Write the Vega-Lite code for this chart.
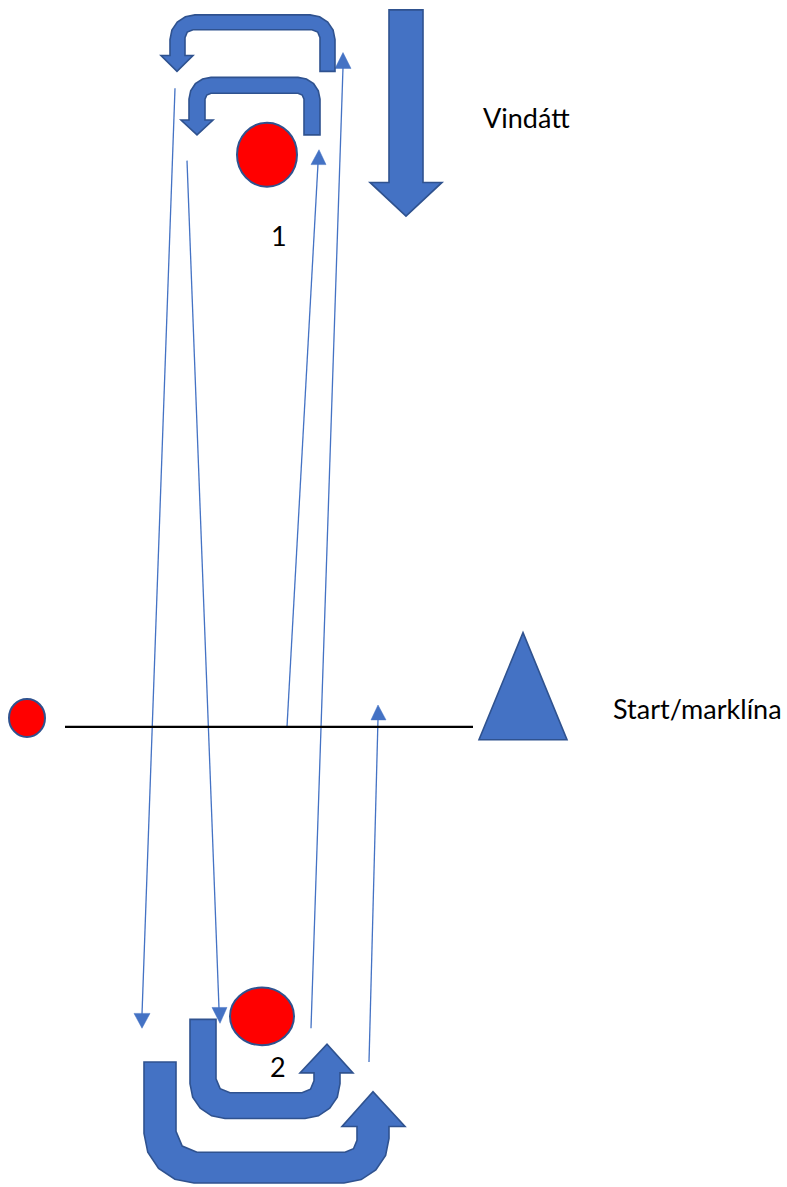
{
  "$schema": "https://vega.github.io/schema/vega-lite/v6.json",
  "width": 787,
  "height": 1187,
  "padding": 0,
  "autosize": {"type": "fit", "contains": "padding"},
  "background": "white",
  "config": {"view": {"stroke": null}},
  "datasets": {
    "polys": [
      {"id": "A", "x": 335, "y": 72}, {"id": "A", "x": 335, "y": 40}, {"id": "A", "x": 333.1, "y": 30.4}, {"id": "A", "x": 327.7, "y": 22.3}, {"id": "A", "x": 319.6, "y": 16.9}, {"id": "A", "x": 310, "y": 15},
      {"id": "A", "x": 195, "y": 15}, {"id": "A", "x": 185.4, "y": 16.9}, {"id": "A", "x": 177.3, "y": 22.3}, {"id": "A", "x": 171.9, "y": 30.4}, {"id": "A", "x": 170, "y": 40},
      {"id": "A", "x": 170, "y": 56}, {"id": "A", "x": 161, "y": 56}, {"id": "A", "x": 177, "y": 72}, {"id": "A", "x": 193, "y": 56}, {"id": "A", "x": 185, "y": 56},
      {"id": "A", "x": 185, "y": 38}, {"id": "A", "x": 187.3, "y": 32.3}, {"id": "A", "x": 193, "y": 30}, {"id": "A", "x": 312, "y": 30}, {"id": "A", "x": 317.7, "y": 32.3}, {"id": "A", "x": 320, "y": 38}, {"id": "A", "x": 320, "y": 72},

      {"id": "B", "x": 320, "y": 136}, {"id": "B", "x": 320, "y": 100}, {"id": "B", "x": 318.3, "y": 91.6}, {"id": "B", "x": 313.6, "y": 84.4}, {"id": "B", "x": 306.4, "y": 79.7}, {"id": "B", "x": 298, "y": 78},
      {"id": "B", "x": 211, "y": 78}, {"id": "B", "x": 202.6, "y": 79.7}, {"id": "B", "x": 195.4, "y": 84.4}, {"id": "B", "x": 190.7, "y": 91.6}, {"id": "B", "x": 189, "y": 100},
      {"id": "B", "x": 189, "y": 121}, {"id": "B", "x": 181, "y": 121}, {"id": "B", "x": 197, "y": 136}, {"id": "B", "x": 213, "y": 121}, {"id": "B", "x": 205, "y": 121},
      {"id": "B", "x": 205, "y": 100}, {"id": "B", "x": 206.8, "y": 95.8}, {"id": "B", "x": 211, "y": 94}, {"id": "B", "x": 298, "y": 94}, {"id": "B", "x": 302.2, "y": 95.8}, {"id": "B", "x": 304, "y": 100}, {"id": "B", "x": 304, "y": 136},

      {"id": "C", "x": 190, "y": 1028}, {"id": "C", "x": 216, "y": 1028}, {"id": "C", "x": 216, "y": 1088}, {"id": "C", "x": 220.1, "y": 1097.9}, {"id": "C", "x": 230, "y": 1102},
      {"id": "C", "x": 302, "y": 1102}, {"id": "C", "x": 310.5, "y": 1098.5}, {"id": "C", "x": 314, "y": 1090}, {"id": "C", "x": 314, "y": 1082},
      {"id": "C", "x": 300, "y": 1082}, {"id": "C", "x": 327, "y": 1053}, {"id": "C", "x": 353, "y": 1082}, {"id": "C", "x": 340, "y": 1082},
      {"id": "C", "x": 340, "y": 1093}, {"id": "C", "x": 337.3, "y": 1106.4}, {"id": "C", "x": 329.7, "y": 1117.7}, {"id": "C", "x": 318.4, "y": 1125.3}, {"id": "C", "x": 305, "y": 1128},
      {"id": "C", "x": 225, "y": 1128}, {"id": "C", "x": 211.6, "y": 1125.3}, {"id": "C", "x": 200.3, "y": 1117.7}, {"id": "C", "x": 192.7, "y": 1106.4}, {"id": "C", "x": 190, "y": 1093},

      {"id": "D", "x": 144, "y": 1071}, {"id": "D", "x": 176, "y": 1071}, {"id": "D", "x": 176, "y": 1141}, {"id": "D", "x": 182.2, "y": 1155.8}, {"id": "D", "x": 197, "y": 1162},
      {"id": "D", "x": 345, "y": 1162}, {"id": "D", "x": 353.5, "y": 1158.5}, {"id": "D", "x": 357, "y": 1150}, {"id": "D", "x": 357, "y": 1136},
      {"id": "D", "x": 342, "y": 1136}, {"id": "D", "x": 373, "y": 1101}, {"id": "D", "x": 405, "y": 1136}, {"id": "D", "x": 389, "y": 1136},
      {"id": "D", "x": 389, "y": 1148}, {"id": "D", "x": 385.6, "y": 1165.2}, {"id": "D", "x": 375.8, "y": 1179.8}, {"id": "D", "x": 361.2, "y": 1189.6}, {"id": "D", "x": 344, "y": 1193},
      {"id": "D", "x": 194, "y": 1193}, {"id": "D", "x": 174.9, "y": 1189.2}, {"id": "D", "x": 158.6, "y": 1178.4}, {"id": "D", "x": 147.8, "y": 1162.1}, {"id": "D", "x": 144, "y": 1143},

      {"id": "W", "x": 389, "y": 10}, {"id": "W", "x": 423, "y": 10}, {"id": "W", "x": 423, "y": 184}, {"id": "W", "x": 442, "y": 184}, {"id": "W", "x": 406, "y": 218}, {"id": "W", "x": 370, "y": 184}, {"id": "W", "x": 389, "y": 184},

      {"id": "T", "x": 523, "y": 638}, {"id": "T", "x": 567, "y": 746}, {"id": "T", "x": 479, "y": 746}
    ],
    "heads": [
      {"id": "h1", "x": 134, "y": 1022}, {"id": "h1", "x": 150, "y": 1022}, {"id": "h1", "x": 142, "y": 1037},
      {"id": "h2", "x": 212, "y": 1016}, {"id": "h2", "x": 227, "y": 1016}, {"id": "h2", "x": 220, "y": 1032},
      {"id": "h3", "x": 311, "y": 166}, {"id": "h3", "x": 326, "y": 166}, {"id": "h3", "x": 319, "y": 151},
      {"id": "h4", "x": 335, "y": 69}, {"id": "h4", "x": 351, "y": 69}, {"id": "h4", "x": 343, "y": 53},
      {"id": "h5", "x": 371, "y": 726}, {"id": "h5", "x": 386, "y": 726}, {"id": "h5", "x": 378, "y": 711}
    ],
    "thin": [
      {"x": 175, "y": 89, "x2": 142, "y2": 1023},
      {"x": 187, "y": 162, "x2": 219, "y2": 1017},
      {"x": 287, "y": 733, "x2": 318, "y2": 165},
      {"x": 311, "y": 1037, "x2": 343, "y2": 68},
      {"x": 369, "y": 1071, "x2": 378, "y2": 725}
    ],
    "baseline": [
      {"x": 65, "y": 733, "x2": 473, "y2": 733}
    ],
    "topcircle": [
      {"name": "1", "x": 267, "y": 156}
    ],
    "bottomcircle": [
      {"name": "2", "x": 262, "y": 1025}
    ],
    "small": [
      {"name": "left", "x": 27, "y": 724}
    ],
    "labels": [
      {"label": "Vindátt", "x": 483, "y": 129},
      {"label": "Start/marklína", "x": 613, "y": 725},
      {"label": "1", "x": 271, "y": 248},
      {"label": "2", "x": 270, "y": 1086}
    ]
  },
  "layer": [
    {
      "data": {"name": "thin"},
      "mark": {"type": "rule", "stroke": "#4472C4", "strokeWidth": 1.3},
      "encoding": {
        "x": {"field": "x", "type": "quantitative", "scale": {"domain": [0, 787], "nice": false, "zero": false}, "axis": null},
        "y": {"field": "y", "type": "quantitative", "scale": {"domain": [0, 1187], "nice": false, "zero": false, "reverse": true}, "axis": null},
        "x2": {"field": "x2"},
        "y2": {"field": "y2"}
      }
    },
    {
      "data": {"name": "heads"},
      "mark": {"type": "line", "interpolate": "linear-closed", "fill": "#4472C4", "stroke": "#4472C4", "strokeWidth": 0.5},
      "encoding": {
        "x": {"field": "x", "type": "quantitative", "scale": {"domain": [0, 787], "nice": false, "zero": false}, "axis": null},
        "y": {"field": "y", "type": "quantitative", "scale": {"domain": [0, 1187], "nice": false, "zero": false, "reverse": true}, "axis": null},
        "detail": {"field": "id", "type": "nominal"},
        "order": {"value": null}
      }
    },
    {
      "data": {"name": "baseline"},
      "mark": {"type": "rule", "stroke": "black", "strokeWidth": 2.2},
      "encoding": {
        "x": {"field": "x", "type": "quantitative", "scale": {"domain": [0, 787], "nice": false, "zero": false}, "axis": null},
        "y": {"field": "y", "type": "quantitative", "scale": {"domain": [0, 1187], "nice": false, "zero": false, "reverse": true}, "axis": null},
        "x2": {"field": "x2"},
        "y2": {"field": "y2"}
      }
    },
    {
      "data": {"name": "polys"},
      "mark": {"type": "line", "interpolate": "linear-closed", "fill": "#4472C4", "stroke": "#2F528F", "strokeWidth": 1.6, "strokeJoin": "miter"},
      "encoding": {
        "x": {"field": "x", "type": "quantitative", "scale": {"domain": [0, 787], "nice": false, "zero": false}, "axis": null},
        "y": {"field": "y", "type": "quantitative", "scale": {"domain": [0, 1187], "nice": false, "zero": false, "reverse": true}, "axis": null},
        "detail": {"field": "id", "type": "nominal"},
        "order": {"value": null}
      }
    },
    {
      "data": {"name": "topcircle"},
      "mark": {"type": "point", "shape": "M-0.9375,0A0.9375,1,0,1,0,0.9375,0A0.9375,1,0,1,0,-0.9375,0Z", "filled": true, "fill": "#FF0000", "fillOpacity": 1, "stroke": "#2F528F", "strokeWidth": 2, "opacity": 1, "size": 4096},
      "encoding": {
        "x": {"field": "x", "type": "quantitative", "scale": {"domain": [0, 787], "nice": false, "zero": false}, "axis": null},
        "y": {"field": "y", "type": "quantitative", "scale": {"domain": [0, 1187], "nice": false, "zero": false, "reverse": true}, "axis": null}
      }
    },
    {
      "data": {"name": "bottomcircle"},
      "mark": {"type": "point", "shape": "M-1,0A1,0.9,0,1,0,1,0A1,0.9,0,1,0,-1,0Z", "filled": true, "fill": "#FF0000", "fillOpacity": 1, "stroke": "#2F528F", "strokeWidth": 2, "opacity": 1, "size": 4096},
      "encoding": {
        "x": {"field": "x", "type": "quantitative", "scale": {"domain": [0, 787], "nice": false, "zero": false}, "axis": null},
        "y": {"field": "y", "type": "quantitative", "scale": {"domain": [0, 1187], "nice": false, "zero": false, "reverse": true}, "axis": null}
      }
    },
    {
      "data": {"name": "small"},
      "mark": {"type": "point", "shape": "M-0.947,0A0.947,1,0,1,0,0.947,0A0.947,1,0,1,0,-0.947,0Z", "filled": true, "fill": "#FF0000", "fillOpacity": 1, "stroke": "#2F528F", "strokeWidth": 2, "opacity": 1, "size": 1444},
      "encoding": {
        "x": {"field": "x", "type": "quantitative", "scale": {"domain": [0, 787], "nice": false, "zero": false}, "axis": null},
        "y": {"field": "y", "type": "quantitative", "scale": {"domain": [0, 1187], "nice": false, "zero": false, "reverse": true}, "axis": null}
      }
    },
    {
      "data": {"name": "labels"},
      "mark": {"type": "text", "align": "left", "baseline": "alphabetic", "font": "Lato", "fontSize": 27, "color": "black"},
      "encoding": {
        "x": {"field": "x", "type": "quantitative", "scale": {"domain": [0, 787], "nice": false, "zero": false}, "axis": null},
        "y": {"field": "y", "type": "quantitative", "scale": {"domain": [0, 1187], "nice": false, "zero": false, "reverse": true}, "axis": null},
        "text": {"field": "label", "type": "nominal"}
      }
    }
  ]
}
